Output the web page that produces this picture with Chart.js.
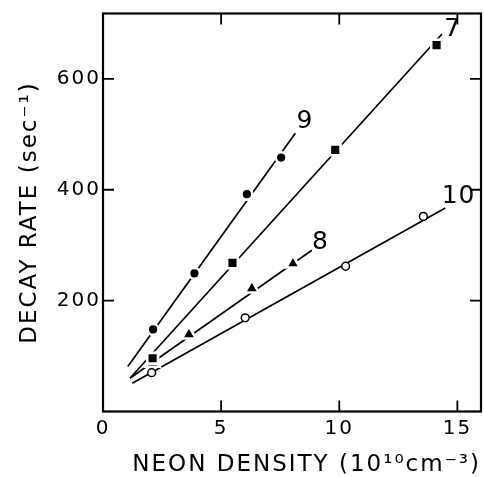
<!DOCTYPE html>
<html>
<head>
<meta charset="utf-8">
<script src="https://cdn.jsdelivr.net/npm/chart.js@4.4.0/dist/chart.umd.min.js"></script>
<style>
  html, body { margin: 0; padding: 0; background: #fff; }
  #wrap { width: 484px; height: 477px; }
</style>
</head>
<body>
<div id="wrap"><canvas id="decayChart"></canvas></div>
<script>
// ---- data ----
// curve 7 : filled squares
const sq7X = [2.1, 5.48, 9.83, 14.12];
const sq7Y = [96, 268, 472, 661];
// curve 9 : filled circles
const dot9X = [2.12, 3.87, 6.09, 7.54];
const dot9Y = [148, 249, 392, 458];
// curve 8 : filled triangles
const tri8X = [2.1, 3.64, 6.3, 8.04];
const tri8Y = [88, 139, 222, 267];
// curve 10 : open circles
const open10X = [2.06, 6.02, 10.27, 13.56];
const open10Y = [70, 169, 262, 352];

// straight lines drawn through each set (start / end)
const fit7X = [1.14, 14.35],  fit7Y = [60, 681];
const fit9X = [1.05, 8.14],   fit9Y = [81, 502];
const fit8X = [1.14, 8.84],   fit8Y = [60, 291];
const fit10X = [1.24, 14.49], fit10Y = [51, 367];

// curve numbers written next to the lines
const curveNames = ["7", "9", "8", "10"];
const nameX = [14.8, 8.55, 9.2, 15.05];
const nameY = [689, 523, 304, 388];

const xTicks = [0, 5, 10, 15];
const yTicks = [200, 400, 600];

const FONT = "'DejaVu Sans', sans-serif";

function pts(xs, ys) {
    return xs.map((x, i) => ({ x: x, y: ys[i] }));
}

function fitLine(xs, ys) {
    return {
        type: "line",
        data: pts(xs, ys),
        borderColor: "#000",
        borderWidth: 1.7,
        pointRadius: 0,
        fill: false,
        order: 5
    };
}

// filled markers get a white rim so the line breaks round them
function markers(xs, ys, style, radius) {
    return {
        type: "scatter",
        data: pts(xs, ys),
        pointStyle: style,
        pointRadius: radius,
        pointBackgroundColor: "#000",
        pointBorderColor: "#fff",
        pointBorderWidth: 2.6,
        order: 1
    };
}

function openMarkers(xs, ys) {
    return {
        type: "scatter",
        data: pts(xs, ys),
        pointStyle: "circle",
        pointRadius: 3.9,
        pointBackgroundColor: "#fff",
        pointBorderColor: "#000",
        pointBorderWidth: 1.5,
        order: 1
    };
}

// frame + inward ticks on all four sides, plus the curve numbers
const framePlugin = {
    id: "frame",
    beforeDraw(chart) {
        chart.ctx.letterSpacing = "2px";
    },
    afterDatasetsDraw(chart) {
        const { ctx, chartArea: a, scales: { x, y } } = chart;
        const tl = 11;
        ctx.save();
        ctx.strokeStyle = "#000";
        ctx.lineWidth = 2.2;
        ctx.strokeRect(a.left, a.top, a.right - a.left, a.bottom - a.top);
        ctx.lineWidth = 1.8;
        ctx.beginPath();
        xTicks.forEach(v => {
            if (v === 0) return;
            const px = x.getPixelForValue(v);
            ctx.moveTo(px, a.bottom); ctx.lineTo(px, a.bottom - tl);
            ctx.moveTo(px, a.top); ctx.lineTo(px, a.top + tl);
        });
        yTicks.forEach(v => {
            const py = y.getPixelForValue(v);
            ctx.moveTo(a.left, py); ctx.lineTo(a.left + tl, py);
            ctx.moveTo(a.right, py); ctx.lineTo(a.right - tl, py);
        });
        ctx.stroke();

        ctx.fillStyle = "#000";
        ctx.font = "25px " + FONT;
        ctx.letterSpacing = "1px";
        ctx.textAlign = "center";
        ctx.textBaseline = "middle";
        curveNames.forEach((t, i) => {
            ctx.fillText(t, x.getPixelForValue(nameX[i]), y.getPixelForValue(nameY[i]));
        });
        ctx.restore();
    }
};

new Chart(document.getElementById("decayChart"), {
    data: {
        datasets: [
            fitLine(fit7X, fit7Y),
            fitLine(fit9X, fit9Y),
            fitLine(fit8X, fit8Y),
            fitLine(fit10X, fit10Y),
            markers(sq7X, sq7Y, "rect", 7.6),
            markers(dot9X, dot9Y, "circle", 5.4),
            markers(tri8X, tri8Y, "triangle", 8),
            openMarkers(open10X, open10Y)
        ]
    },
    options: {
        responsive: true,
        maintainAspectRatio: false,
        animation: false,
        events: [],
        layout: { autoPadding: false, padding: { top: 13.5, right: 3, bottom: 0, left: 0 } },
        plugins: {
            legend: { display: false },
            tooltip: { enabled: false }
        },
        scales: {
            x: {
                type: "linear",
                min: 0,
                max: 16,
                grid: { display: false, drawTicks: false },
                border: { display: false },
                afterBuildTicks: s => { s.ticks = xTicks.map(v => ({ value: v })); },
                afterFit: s => { s.height = 65.5; s.paddingLeft = 0; s.paddingRight = 0; },
                ticks: {
                    color: "#000",
                    font: { family: FONT, size: 20 },
                    padding: 5,
                    maxRotation: 0
                },
                title: {
                    display: true,
                    text: "NEON DENSITY (10¹⁰cm⁻³)",
                    color: "#000",
                    align: "end",
                    font: { family: FONT, size: 23, lineHeight: 1 },
                    padding: { top: 0, bottom: 0 }
                }
            },
            y: {
                type: "linear",
                min: 0,
                max: 718,
                grid: { display: false, drawTicks: false },
                border: { display: false },
                afterBuildTicks: s => { s.ticks = yTicks.map(v => ({ value: v })); },
                afterFit: s => { s.width = 103; s.paddingTop = 0; s.paddingBottom = 0; },
                ticks: {
                    color: "#000",
                    font: { family: FONT, size: 20 },
                    padding: 2
                },
                title: {
                    display: true,
                    text: "DECAY RATE (sec⁻¹)",
                    color: "#000",
                    font: { family: FONT, size: 23, lineHeight: 1 },
                    padding: { top: 19, bottom: 0 }
                }
            }
        }
    },
    plugins: [framePlugin]
});
</script>
</body>
</html>
